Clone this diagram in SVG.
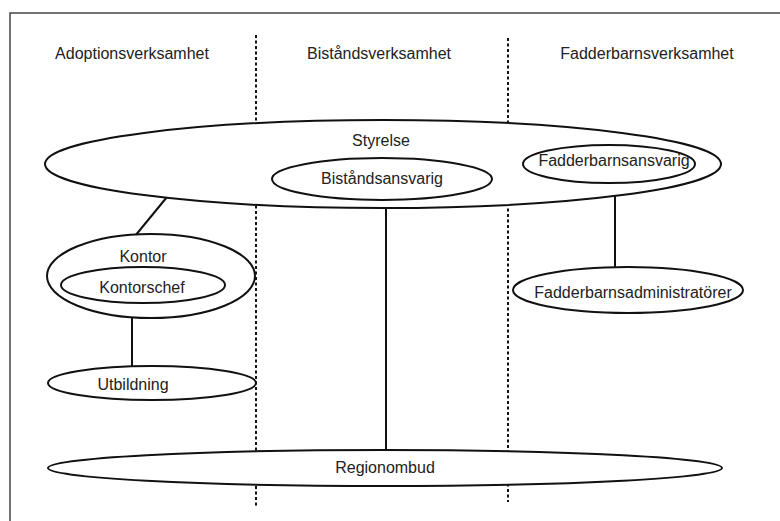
<svg xmlns="http://www.w3.org/2000/svg" width="780" height="521" viewBox="0 0 780 521">
<style>
.t{font-family:"Liberation Sans",Arial,sans-serif;font-size:16px;fill:#222;text-anchor:middle}
.e{fill:#fff;stroke:#111;stroke-width:2}
.c{stroke:#111;stroke-width:2;fill:none}
.d{stroke:#111;stroke-width:2;stroke-dasharray:3 2.5;fill:none}
.b{stroke:#444;stroke-width:1.5;fill:none}
</style>
<rect width="780" height="521" fill="#fff"/>
<path class="b" d="M10 521V13H780"/>
<g id="lanes">
<line class="d" x1="256" y1="35" x2="256" y2="508"/>
<line class="d" x1="508" y1="38" x2="508" y2="502"/>
<text class="t" x="132" y="59">Adoptionsverksamhet</text>
<text class="t" x="379" y="59">Biståndsverksamhet</text>
<text class="t" x="647" y="59">Fadderbarnsverksamhet</text>
</g>
<g id="connectors">
<line class="c" x1="167" y1="197" x2="135" y2="236"/>
<line class="c" x1="132" y1="316" x2="132" y2="368"/>
<line class="c" x1="386" y1="198" x2="386" y2="452"/>
<line class="c" x1="615" y1="182" x2="615" y2="268"/>
</g>
<g id="styrelse">
<ellipse class="e" cx="383" cy="164" rx="338" ry="44"/>
<text class="t" x="381" y="146">Styrelse</text>
</g>
<g id="bistandsansvarig">
<ellipse class="e" cx="382" cy="179" rx="110" ry="21"/>
<text class="t" x="382" y="184">Biståndsansvarig</text>
</g>
<g id="fadderbarnsansvarig">
<ellipse class="e" cx="609" cy="164" rx="86" ry="19"/>
<text class="t" x="614" y="166">Fadderbarnsansvarig</text>
</g>
<g id="fadderbarnsadministratorer">
<ellipse class="e" cx="628" cy="290" rx="115" ry="23"/>
<text class="t" x="633" y="298">Fadderbarnsadministratörer</text>
</g>
<g id="kontor">
<ellipse class="e" cx="151" cy="276" rx="104" ry="42"/>
<text class="t" x="143" y="262">Kontor</text>
</g>
<g id="kontorschef">
<ellipse class="e" cx="143" cy="285" rx="82" ry="18"/>
<text class="t" x="142" y="293">Kontorschef</text>
</g>
<g id="utbildning">
<ellipse class="e" cx="152" cy="383" rx="104" ry="17"/>
<text class="t" x="133" y="390">Utbildning</text>
</g>
<g id="regionombud">
<ellipse class="e" cx="385" cy="468" rx="337" ry="18"/>
<text class="t" x="385" y="473">Regionombud</text>
</g>
</svg>
